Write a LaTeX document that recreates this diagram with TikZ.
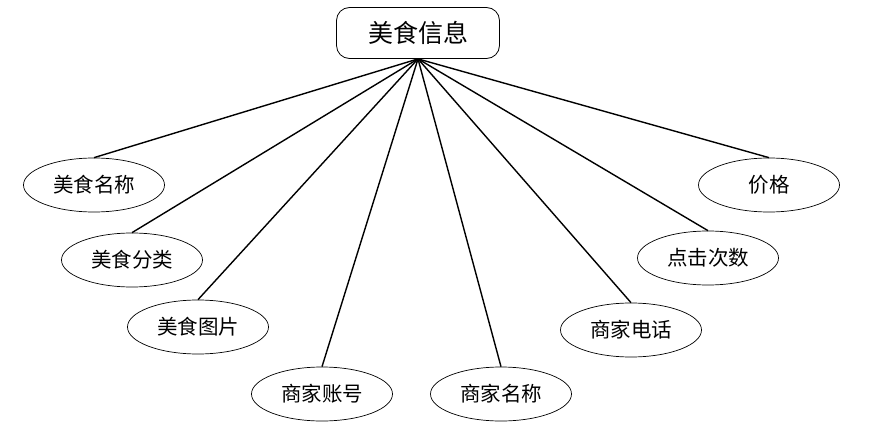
\documentclass[tikz,border=0pt]{standalone}
\usepackage{fontspec}
\newfontfamily\cjk{Noto Sans CJK SC}
\usetikzlibrary{shapes.geometric}
\tikzset{attr/.style={draw, ellipse, minimum width=141pt, minimum height=54pt, inner sep=0pt, line width=0.7pt, font=\cjk\fontsize{20.5}{20.5}\selectfont}}
\tikzset{ent/.style={draw, rounded corners=13pt, minimum width=163pt, minimum height=51pt, inner sep=0pt, line width=0.8pt, font=\cjk\fontsize{25}{25}\selectfont}}
\tikzset{ed/.style={line width=1.4pt}}

\begin{document}
\begin{tikzpicture}[x=1pt, y=-1pt]
\useasboundingbox (0,0) rectangle (878,428);

\node[ent] (food) at (418, 33) {美食信息};

\node[attr] (name) at (94, 185) {美食名称};
\node[attr] (kind) at (132, 260) {美食分类};
\node[attr] (pic) at (198, 327) {美食图片};
\node[attr] (acct) at (322, 394) {商家账号};
\node[attr] (shop) at (501, 394) {商家名称};
\node[attr] (tel) at (631, 330) {商家电话};
\node[attr] (hits) at (708, 258) {点击次数};
\node[attr] (price) at (769, 185) {价格};

\foreach \a in {name, kind, pic, acct, shop, tel, hits, price}
  \draw[ed] (food.south) -- (\a.north);

\end{tikzpicture}
\end{document}
